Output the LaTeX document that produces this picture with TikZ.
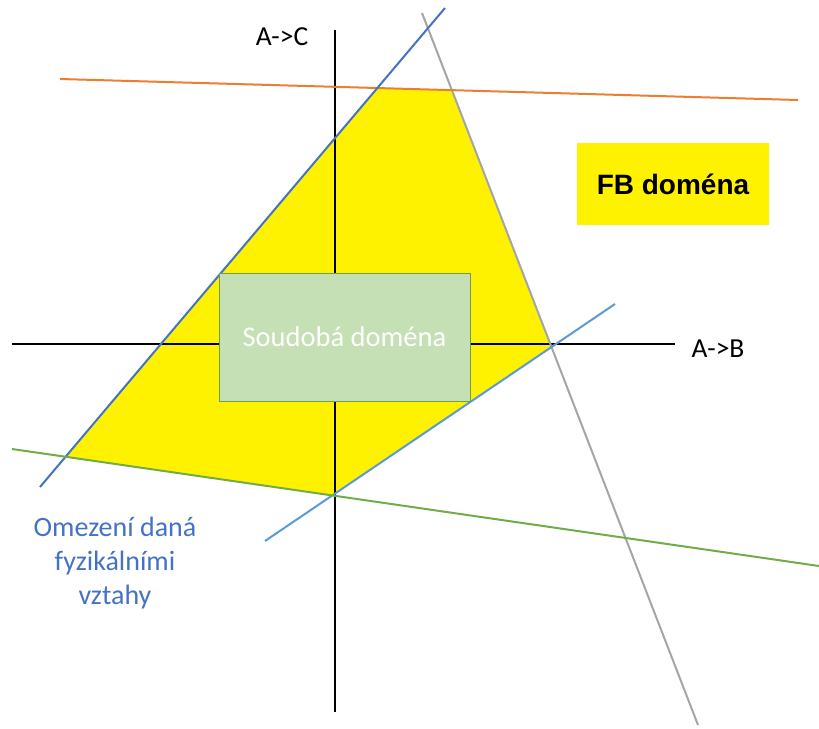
\documentclass[tikz,border=0pt]{standalone}
\usepackage{fontspec}
\setmainfont{Carlito}
\newfontfamily\arialfont{Liberation Sans}
\definecolor{fbyellow}{HTML}{FFF200}
\definecolor{orangeline}{HTML}{ED7D31}
\definecolor{blueline}{HTML}{4472C4}
\definecolor{lightblueline}{HTML}{5B9BD5}
\definecolor{greenline}{HTML}{70AD47}
\definecolor{grayline}{HTML}{A5A5A5}
\definecolor{boxgreen}{HTML}{C5E0B4}
\definecolor{boxborder}{HTML}{6F9E4E}
\begin{document}
\begin{tikzpicture}[x=1pt,y=-1pt,
  limit/.style={line width=2pt},
  axis/.style={line width=2pt, black},
  lbl/.style={font=\fontsize{27.5}{32}\selectfont, inner sep=0pt}]
\useasboundingbox (0,0) rectangle (819,728);
% constraint line end points
\coordinate (o1) at (60,79); \coordinate (o2) at (798,100);
\coordinate (b1) at (40,487); \coordinate (b2) at (445,8);
\coordinate (g1) at (422,13); \coordinate (g2) at (698,725);
\coordinate (l1) at (265,541); \coordinate (l2) at (615,304);
\coordinate (n1) at (12,449); \coordinate (n2) at (819,566);
% feasible region
\fill[fbyellow] (intersection of o1--o2 and b1--b2) -- (intersection of o1--o2 and g1--g2)
  -- (intersection of g1--g2 and l1--l2) -- (intersection of l1--l2 and n1--n2)
  -- (intersection of n1--n2 and b1--b2) -- cycle;
% axes
\coordinate (yt) at (335,30); \coordinate (yb) at (335,712);
\coordinate (xl) at (12,344); \coordinate (xr) at (675,344);
\draw[axis] (yt) -- (yb);
\draw[axis] (xl) -- (xr);
% constraint lines
\draw[limit, grayline] (g1) -- (g2);
\draw[limit, orangeline] (o1) -- (o2);
\draw[limit, blueline] (b1) -- (b2);
\draw[limit, lightblueline] (l1) -- (l2);
\draw[limit, greenline] (n1) -- (n2);
% boxes
\node[draw=boxborder, line width=1pt, fill=boxgreen, minimum width=251pt, minimum height=128pt,
      text=white, font=\fontsize{28.5}{32}\selectfont, inner sep=0pt] (sd) at (344.5,337) {Soudobá doména};
\node[fill=fbyellow, minimum width=192pt, minimum height=82pt, inner sep=0pt,
      font=\arialfont\bfseries\fontsize{28}{32}\selectfont] (fb) at (673,184) {FB doména};
% labels
\node[lbl] (ac) at (282,37) {A->C};
\node[lbl] (ab) at (718,349) {A->B};
\node[lbl, text=blueline, align=center, font=\fontsize{28}{34}\selectfont] (om) at (115,563)
  {Omezení daná\\fyzikálními\\vztahy};
\end{tikzpicture}
\end{document}
